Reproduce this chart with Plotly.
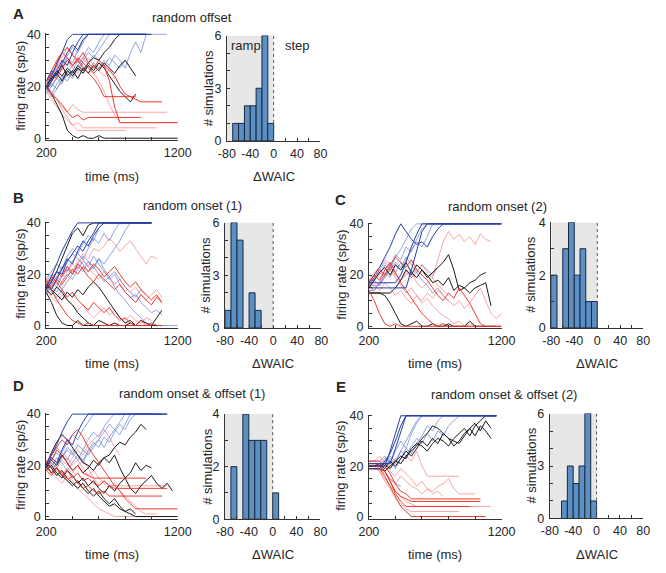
import plotly.graph_objects as go

# ---------------- data ----------------
T = [200, 240, 280, 320, 360, 400, 440, 480, 520, 560, 600, 640, 680, 720, 760,
     800, 840, 880, 920, 960, 1000, 1040, 1080, 1120, 1160, 1200]

# Panel A: random offset
A_BLUE_DARK = [
    [20, 24, 29, 33, 38, 40, 40, 40, 40, 40, 40, 40, 40, 40, 40, 40, 40, 40, 40, 40],
    [19, 22, 26, 30, 28, 33, 37, 40, 40, 40, 40, 40, 40, 40, 40, 40, 40, 40, 40, 40, 40],
    [22, 26, 24, 29, 33, 36, 34, 38, 40, 40, 40, 40, 40, 40, 40, 40, 40, 40, 40, 40],
]
A_BLUE_LIGHT = [
    [21, 20, 24, 27, 31, 29, 34, 38, 40, 40, 40, 40, 40, 40, 40, 40, 40, 40, 40, 40],
    [18, 21, 19, 23, 26, 24, 28, 31, 35, 33, 37, 40, 40, 40, 40, 40, 40, 40, 40, 40, 40],
    [20, 17, 21, 24, 22, 26, 30, 28, 25, 29, 27, 30, 28, 32, 30, 27, 33, 37, 33, 40, 40, 40, 40, 40],
    [17, 20, 23, 21, 25, 28, 26, 30, 33, 31, 34, 37, 40, 40, 40, 40, 40, 40, 40, 40],
    [19, 16, 19, 22, 25, 23, 27, 25, 29, 32, 30, 28, 31, 29, 27, 30],
    [18, 22, 25, 28, 32, 35, 33, 37, 40, 40, 40, 40, 40, 40, 40, 40, 40, 40, 40, 40],
]
A_BLACK = [
    [20, 23, 26, 24, 27, 25, 28, 26, 29, 31, 30, 33, 35, 38, 40, 40, 40, 40, 40, 40],
    [20, 23, 25, 22, 26, 24, 27, 25, 28, 26, 29, 27, 24, 21, 18, 16, 14, 17],
    [20, 17, 13, 9, 3, 1, 0, 1, 0, 0, 1, 0, 0, 0, 0, 0, 0, 0, 0, 0, 0, 0, 0, 0, 0, 0],
    [19, 22, 25, 28, 24, 26, 23, 27, 25, 28, 26, 29, 27, 25, 28, 30, 27, 24],
]
A_RED = [
    [20, 24, 28, 33, 35, 32, 30, 33, 29, 27, 30, 28, 26, 24, 20, 17, 16, 15, 14, 14, 14, 14, 14],
    [21, 25, 23, 27, 30, 28, 31, 29, 27, 25, 27, 28, 22, 12, 6, 6, 6, 6, 6, 6, 6, 6, 6, 6, 6, 6],
    [20, 17, 15, 13, 10, 8, 9, 7, 8, 8, 8, 8, 8, 8, 8, 8, 8, 8, 8],
    [22, 26, 30, 33, 31, 28, 30, 27, 25, 23, 20, 16, 16, 16, 16, 16, 16, 16],
]
A_RED_LIGHT = [
    [19, 17, 15, 12, 10, 13, 11, 10, 10, 10, 10, 10, 10, 10, 10, 10, 10, 10, 10, 10, 10, 10, 10, 10],
    [18, 15, 12, 9, 7, 5, 6, 4, 4, 4, 4, 4, 4, 4, 4, 4, 4, 4, 4, 4, 4, 4],
    [20, 18, 15, 11, 8, 5, 3, 3, 3, 3, 3, 3, 3, 3, 3, 3],
    [20, 23, 27, 31, 35, 32, 29, 31, 28, 25, 22, 18, 13, 9, 6, 6, 6, 6, 6, 6, 6, 6, 6, 6, 6, 6],
    [22, 25, 28, 26, 30, 27, 25, 29, 31, 28, 26, 24, 27, 23],
]

# Panel B: random onset (1)
B_BLUE_DARK = [
    [15, 19, 24, 29, 33, 37, 40, 40, 40, 40, 40, 40, 40, 40, 40, 40, 40, 40, 40, 40, 40],
    [14, 17, 21, 20, 25, 28, 31, 29, 33, 36, 40, 40, 40, 40, 40, 40, 40, 40, 40, 40, 40],
    [16, 14, 18, 22, 26, 24, 29, 33, 31, 35, 38, 40, 40, 40, 40, 40, 40, 40, 40, 40, 40],
]
B_BLUE_LIGHT = [
    [13, 16, 19, 23, 21, 25, 28, 26, 30, 34, 32, 36, 33, 37, 40, 40, 40, 40, 40, 40, 40],
    [17, 20, 18, 22, 25, 28, 26, 24, 21, 23, 20, 17, 19, 15, 12, 10, 7, 5, 3, 1, 0, 0, 0, 0, 0, 0],
    [12, 15, 13, 17, 20, 18, 22, 25, 23, 27, 24, 21, 18, 20, 16, 13, 11, 12, 9, 7, 5, 6, 4],
    [16, 13, 11, 14, 17, 20, 23, 21, 25, 22, 26, 24, 27, 30, 33, 37, 40, 40, 40, 40, 40],
    [18, 21, 24, 22, 27, 30, 28, 32, 35, 33, 38, 40, 40, 40, 40, 40, 40, 40, 40, 40, 40],
    [14, 17, 15, 19, 22, 20, 24, 27, 25, 23, 26, 22, 19, 21, 18, 15, 13, 11, 14, 12],
]
B_BLACK = [
    [14, 17, 21, 26, 31, 36, 38, 35, 39, 40, 40, 40, 40, 40, 40, 40, 40, 40, 40, 40, 40],
    [13, 9, 4, 1, 0, 0, 2, 0, 0, 0, 0, 0, 0, 0, 0, 0, 0, 0, 0, 0, 0, 0, 0],
    [16, 14, 12, 10, 13, 11, 14, 12, 15, 17, 15, 12, 9, 6, 3, 1, 2, 0, 2, 1, 0, 3, 6],
    [14, 12, 15, 13, 10, 8, 5, 3, 1, 0, 2, 1, 0, 1, 0, 0, 1, 0, 0, 0],
]
B_RED = [
    [17, 15, 18, 16, 19, 22, 20, 23, 21, 24, 22, 19, 21, 23, 20, 17, 15, 17, 14, 12, 10, 12, 9],
    [18, 14, 10, 7, 4, 2, 1, 0, 1, 0, 0, 0, 0, 0, 0, 0, 0, 0, 0, 0, 0],
    [16, 19, 17, 14, 11, 13, 10, 8, 6, 9, 7, 5, 7, 4, 2, 3, 1, 0, 2, 0, 1, 0, 0],
    [15, 18, 21, 19, 23, 20, 24, 22, 19, 17, 20, 18, 16, 14, 16, 13, 11, 9, 12, 10, 8, 11, 9],
]
B_RED_LIGHT = [
    [15, 18, 16, 20, 23, 21, 25, 28, 26, 30, 29, 31, 34, 32, 29, 31, 33, 30, 27, 24, 27, 26],
    [14, 11, 9, 12, 10, 8, 6, 8, 5, 3, 5, 7, 4, 6, 3, 2, 4, 2, 1, 3, 2],
    [13, 16, 19, 17, 21, 24, 22, 26, 23, 20, 18, 21, 19, 16, 18, 15, 13, 15, 12, 10, 12, 14, 11],
]

# Panel C: random onset (2)
C_BLUE_DARK = [
    [17, 17, 17, 17, 17, 17, 20, 25, 31, 36, 40, 40, 40, 40, 40, 40, 40, 40, 40, 40, 40, 40, 40, 40, 40, 40],
    [15, 15, 15, 15, 15, 15, 15, 15, 22, 30, 37, 40, 40, 40, 40, 40, 40, 40, 40, 40, 40, 40, 40, 40, 40, 40],
    [17, 20, 23, 27, 31, 36, 40, 37, 34, 32, 33, 31, 35, 38, 40, 40, 40, 40, 40, 40, 40, 40, 40, 40, 40, 40],
]
C_BLUE_LIGHT = [
    [18, 18, 20, 24, 22, 27, 30, 34, 38, 40, 40, 40, 40, 40, 40, 40, 40, 40, 40, 40, 40, 40, 40, 40, 40, 40],
    [16, 19, 22, 25, 23, 28, 26, 31, 29, 34, 38, 40, 40, 40, 40, 40, 40, 40, 40, 40, 40],
    [14, 14, 17, 21, 19, 24, 22, 26, 30, 33, 31, 35, 40, 40, 40, 40, 40, 40, 40, 40],
    [15, 18, 16, 20, 23, 21, 25, 22, 19, 21, 24, 22, 20, 23],
    [16, 16, 16, 19, 22, 25, 23, 27, 24, 21, 18, 16, 13, 15, 12, 10],
]
C_BLACK = [
    [13, 13, 13, 13, 13, 15, 18, 22, 20, 24, 22, 19, 21, 23, 25, 28, 22, 14, 15, 13, 15, 16, 17, 8],
    [13, 13, 13, 12, 9, 5, 1, 0, 1, 2, 0, 0, 1, 0, 0, 1, 0, 0, 0, 2, 0, 0, 0, 0, 0],
    [15, 18, 21, 23, 20, 24, 22, 25, 21, 19, 22, 20, 17, 18, 16, 19, 14, 16, 15, 17, 18, 20, 21],
]
C_RED = [
    [16, 19, 22, 20, 24, 27, 25, 23, 26, 22, 20, 18, 15, 12, 10, 13, 11, 15, 12, 9, 5, 1, 0, 0, 0, 0],
    [14, 10, 5, 1, 0, 1, 0, 0, 0, 0, 0, 0, 0, 0, 0, 0, 0, 0, 0, 0, 0, 0, 0, 0, 0, 0],
    [17, 20, 18, 22, 25, 21, 17, 14, 11, 8, 5, 3, 1, 0, 1, 0, 0, 0, 0, 0],
]
C_RED_LIGHT = [
    [15, 18, 21, 19, 23, 20, 18, 21, 19, 22, 24, 21, 19, 26, 33, 37, 34, 36, 33, 35, 32, 36, 34, 33],
    [13, 16, 14, 17, 15, 12, 14, 11, 9, 12, 10, 13, 11, 14, 12, 10, 8, 10, 7, 9, 12, 15, 10, 5, 3, 5],
    [16, 14, 17, 20, 22, 19, 16, 13, 15, 12, 9, 11, 8, 6, 4, 3, 1, 2, 0, 1, 0],
    [18, 21, 23, 26, 24, 20, 18, 20, 22, 17, 15, 17, 19, 16, 14, 12],
]

# Panel D: random onset & offset (1)
D_BLUE_DARK = [
    [20, 24, 28, 33, 37, 40, 40, 40, 40, 40, 40, 40, 40, 40, 40, 40, 40, 40, 40, 40, 40, 40, 40, 40],
    [19, 23, 21, 26, 30, 28, 33, 37, 40, 40, 40, 40, 40, 40, 40, 40, 40, 40, 40, 40, 40, 40, 40, 40],
]
D_BLUE_LIGHT = [
    [21, 24, 27, 25, 29, 32, 30, 34, 37, 40, 40, 40, 40, 40, 40, 40, 40, 40, 40, 40, 40, 40, 40],
    [18, 21, 19, 23, 26, 24, 28, 26, 30, 33, 31, 35, 38, 40, 40, 40, 40, 40, 40, 40, 40, 40, 40],
    [20, 17, 21, 24, 22, 26, 24, 21, 25, 28, 30, 27, 31, 34, 32, 36, 40, 40, 40, 40, 40, 40, 40],
    [19, 22, 25, 23, 27, 25, 22, 26, 24, 27, 30, 33, 36, 34, 37, 40, 40, 40, 40, 40, 40],
    [21, 19, 23, 21, 18, 21, 24, 22, 26, 29, 27, 31, 29, 33, 36, 34, 38, 40, 40, 40, 40],
]
D_BLACK = [
    [20, 25, 29, 32, 30, 27, 24, 21, 20, 18, 21, 23, 24, 27, 29, 28, 31, 33, 36, 34],
    [19, 22, 20, 24, 21, 18, 20, 17, 19, 22, 20, 23, 21, 24, 19, 15, 17, 21, 18, 20, 19],
    [18, 20, 17, 15, 18, 16, 13, 15, 12, 14, 11, 9, 12, 10, 13, 15, 11, 9, 12, 14, 16, 13, 11, 13, 10],
    [21, 19, 16, 18, 15, 13, 11, 13, 10, 8, 10, 7, 5, 7, 4, 2, 1, 0, 0, 0, 0, 0, 0, 0, 0, 0],
    [20, 17, 19, 16, 14, 12, 14, 11, 9, 11, 8, 6, 4, 5, 3, 2, 3, 1],
]
D_RED = [
    [19, 22, 26, 24, 21, 18, 20, 17, 16, 15, 15, 15, 15, 15, 15, 15, 15, 15, 15, 15],
    [20, 17, 19, 16, 18, 15, 17, 14, 15, 13, 12, 14, 12, 11, 11, 11, 11, 11, 11, 11, 11, 11, 11, 11],
    [18, 16, 19, 17, 14, 16, 13, 11, 12, 10, 9, 10, 8, 8, 8, 8, 8, 8, 8, 8, 8, 8, 8],
    [21, 24, 27, 30, 28, 32, 34, 31, 27, 24, 21, 18, 15, 12, 10, 7, 5, 3, 3, 3, 3, 3, 3, 3, 3, 3],
]
D_RED_LIGHT = [
    [19, 17, 15, 13, 16, 14, 11, 9, 7, 5, 3, 2, 1, 0, 0, 0, 0, 0, 0, 0],
    [22, 20, 18, 16, 19, 17, 20, 22, 19, 15, 12, 14, 12, 12, 12, 12, 12, 12, 12, 12, 12, 12, 12, 12],
    [20, 23, 21, 25, 23, 20, 22, 19, 16, 18, 15, 13, 11, 13, 10, 8, 6, 4, 2, 1, 1, 1],
    [18, 21, 19, 22, 20, 23, 26, 24, 28, 30, 32, 34, 31, 27, 24],
]

# Panel E: random onset & offset (2)
E_BLUE_DARK = [
    [20, 20, 20, 20, 26, 33, 40, 40, 40, 40, 40, 40, 40, 40, 40, 40, 40, 40, 40, 40, 40, 40, 40, 40, 40],
    [21, 21, 21, 21, 21, 27, 34, 40, 40, 40, 40, 40, 40, 40, 40, 40, 40, 40, 40, 40, 40, 40, 40, 40, 40],
    [19, 19, 19, 22, 25, 30, 36, 40, 40, 40, 40, 40, 40, 40, 40, 40, 40, 40, 40, 40, 40, 40, 40, 40, 40],
]
E_BLUE_LIGHT = [
    [20, 20, 20, 20, 23, 21, 26, 30, 34, 38, 40, 40, 40, 40, 40, 40, 40, 40, 40, 40, 40, 40, 40, 40, 40],
    [21, 21, 21, 23, 22, 19, 23, 27, 25, 29, 32, 36, 34, 38, 40, 40, 40, 40, 40, 40, 40, 40, 40, 40, 40],
    [19, 19, 19, 21, 24, 22, 26, 24, 28, 31, 29, 33, 30, 34, 32, 36, 38, 40, 40, 40, 40, 40, 40, 40, 40],
    [20, 20, 20, 18, 15, 13, 12],
    [22, 22, 22, 24, 21, 26, 30, 27, 33, 37, 40, 40, 40, 40, 40, 40, 40, 40, 40, 40, 40, 40, 40, 40, 40],
]
E_BLACK = [
    [20, 20, 21, 19, 22, 20, 23, 26, 24, 27, 30, 28, 31, 29, 33, 31, 28, 30, 33, 35, 32, 36, 34, 31],
    [20, 20, 20, 21, 19, 22, 24, 23, 27, 29, 28, 26, 29, 31, 30, 28, 31, 33, 35, 32, 36, 38, 40, 40, 40],
    [19, 19, 19, 18, 20, 22, 21, 24, 26, 28, 31, 33, 36, 35, 33, 31, 30, 29, 32, 35, 37, 34, 38, 35],
]
E_RED = [
    [20, 20, 20, 18, 14, 10, 8, 7, 6, 6, 6, 6, 6, 6, 6, 6, 6, 6, 6, 6, 6, 6],
    [21, 21, 21, 18, 14, 9, 6, 4, 4, 4, 4, 4, 4, 4, 4, 4, 4, 4, 4, 4],
    [19, 19, 19, 16, 12, 8, 4, 2, 0, 0, 0, 0, 0, 0, 0, 0, 0, 0, 0, 0, 0, 0, 0],
    [22, 22, 22, 20, 17, 13, 10, 9, 7, 7, 7, 7, 7, 7, 7, 7, 7, 7, 7, 7, 7, 7],
]
E_RED_LIGHT = [
    [20, 20, 20, 22, 20, 23, 21, 24, 22, 26, 20, 16, 16, 16, 16, 16, 16, 16],
    [21, 21, 19, 17, 15, 13, 16, 14, 12, 11, 9, 11, 10, 12, 13, 15, 11, 9, 9, 9, 9],
    [19, 19, 18, 15, 12, 10, 8, 6, 5, 4, 4, 4, 4, 4, 4, 4, 4, 4, 4, 4, 4, 4, 4, 4],
    [20, 20, 18, 14, 11, 7, 5, 3, 2, 2, 2, 2, 2, 2, 2, 2, 2, 2],
    [22, 22, 24, 21, 18, 16, 19, 17, 15, 12, 14, 11, 9, 10, 8],
]

# Histograms of delta WAIC (left bin edges, width 10)
HIST_A_EDGES = [-70, -60, -50, -40, -30, -20, -10]
HIST_A_COUNTS = [1, 1, 2, 2, 3, 6, 1]
HIST_B_EDGES = [-80, -70, -60, -50, -40, -30]
HIST_B_COUNTS = [1, 6, 5, 0, 2, 1]
HIST_C_EDGES = [-80, -70, -60, -50, -40, -30, -20, -10]
HIST_C_COUNTS = [2, 0, 3, 4, 2, 3, 1, 1]
HIST_D_EDGES = [-70, -60, -50, -40, -30, -20, -10, 0]
HIST_D_COUNTS = [2, 0, 4, 3, 3, 3, 0, 1]
HIST_E_EDGES = [-60, -50, -40, -30, -20, -10]
HIST_E_COUNTS = [1, 3, 2, 3, 6, 1]
BIN_WIDTH = 10

TITLES = ["random offset", "random onset (1)", "random onset (2)",
          "random onset & offset (1)", "random onset & offset (2)"]
LETTERS = ["A", "B", "C", "D", "E"]

# ---------------- styles / layout ----------------
W, H = 666, 573
FONT = "Liberation Sans, Arial, Helvetica, sans-serif"
TXT = "#262626"
COL_BLUE_DARK = "rgb(38,62,168)"
COL_BLUE_LIGHT = "rgba(75,105,205,0.6)"
COL_RED = "rgba(238,48,38,0.95)"
COL_RED_LIGHT = "rgba(246,95,95,0.55)"
COL_BLACK = "rgb(25,25,25)"
BAR_FILL = "rgb(92,143,196)"
BAR_EDGE = "rgb(25,40,60)"
SHADE = "rgb(231,231,231)"
AXC = "#333333"

panels = [
    dict(series=(A_BLUE_LIGHT, A_RED_LIGHT, A_BLACK, A_RED, A_BLUE_DARK),
         edges=HIST_A_EDGES, counts=HIST_A_COUNTS, hmax=6,
         lx=(37.7, 174), y0=134.5, y40=28.0, hx=(225, 322), hy0=137.3, hyt=29.3,
         title=(189, 11), letter=(9, 7), ylab_x=11, sim_x=205.5, xlab_y=174, ramp=True),
    dict(series=(B_BLUE_LIGHT, B_RED_LIGHT, B_BLACK, B_RED, B_BLUE_DARK),
         edges=HIST_B_EDGES, counts=HIST_B_COUNTS, hmax=6,
         lx=(37.5, 174), y0=326.5, y40=221.3, hx=(223, 323), hy0=329, hyt=221,
         title=(189, 203), letter=(9, 195), ylab_x=11, sim_x=202.5, xlab_y=365, ramp=False),
    dict(series=(C_BLUE_LIGHT, C_RED_LIGHT, C_BLACK, C_RED, C_BLUE_DARK),
         edges=HIST_C_EDGES, counts=HIST_C_COUNTS, hmax=4,
         lx=(372.3, 510), y0=327.3, y40=222.3, hx=(561.5, 657), hy0=329, hyt=220.7,
         title=(506, 205), letter=(343, 197), ylab_x=343, sim_x=540, xlab_y=365, ramp=False),
    dict(series=(D_BLUE_LIGHT, D_RED_LIGHT, D_BLACK, D_RED, D_BLUE_DARK),
         edges=HIST_D_EDGES, counts=HIST_D_COUNTS, hmax=4,
         lx=(37.5, 174), y0=522.3, y40=417.3, hx=(223, 322), hy0=525, hyt=417.3,
         title=(189, 396), letter=(9, 388), ylab_x=11, sim_x=205.5, xlab_y=561, ramp=False),
    dict(series=(E_BLUE_LIGHT, E_RED_LIGHT, E_BLACK, E_RED, E_BLUE_DARK),
         edges=HIST_E_EDGES, counts=HIST_E_COUNTS, hmax=6,
         lx=(372.3, 510), y0=522.3, y40=419.0, hx=(560, 657), hy0=524.3, hyt=416.7,
         title=(512, 397), letter=(343, 389), ylab_x=343, sim_x=540, xlab_y=561, ramp=False),
]
STYLE = [(COL_BLUE_LIGHT, 1.0), (COL_RED_LIGHT, 1.0), (COL_BLACK, 1.0),
         (COL_RED, 1.0), (COL_BLUE_DARK, 1.0)]

fig = go.Figure()
layout = dict(width=W, height=H, margin=dict(l=0, r=0, t=0, b=0),
              paper_bgcolor="white", plot_bgcolor="white", showlegend=False,
              font=dict(family=FONT, size=12.5, color=TXT), barmode="overlay")
shapes, annotations = [], []


def xd(a, b):
    return [a / W, b / W]


def yd(top, bottom):
    return [1 - bottom / H, 1 - top / H]


def ann(text, px, py, size=13, angle=0, bold=False):
    annotations.append(dict(text=f"<b>{text}</b>" if bold else text,
                            x=px / W, y=1 - py / H, xref="paper", yref="paper",
                            xanchor="center", yanchor="middle", showarrow=False,
                            textangle=angle, font=dict(size=size, family=FONT, color=TXT)))


YLO, YHI = -0.8, 40.4
for i, p in enumerate(panels):
    nl, nh = 2 * i + 1, 2 * i + 2
    xl = "x" if nl == 1 else f"x{nl}"
    yl = "y" if nl == 1 else f"y{nl}"
    xh, yh = f"x{nh}", f"y{nh}"
    # line traces
    for group, (col, w) in zip(p["series"], STYLE):
        for vals in group:
            fig.add_trace(go.Scatter(x=T[:len(vals)], y=vals, mode="lines",
                                     line=dict(color=col, width=w),
                                     xaxis=xl, yaxis=yl, hoverinfo="skip"))
    # histogram bars
    cx = [e + BIN_WIDTH / 2 for e, c in zip(p["edges"], p["counts"]) if c > 0]
    cy = [c for c in p["counts"] if c > 0]
    fig.add_trace(go.Bar(x=cx, y=cy, width=BIN_WIDTH, xaxis=xh, yaxis=yh,
                         marker=dict(color=BAR_FILL, line=dict(color=BAR_EDGE, width=1)),
                         hoverinfo="skip"))
    s = (p["y0"] - p["y40"]) / 40.0
    top = p["y40"] - (YHI - 40) * s
    bot = p["y0"] - YLO * s
    common = dict(showgrid=False, zeroline=False, showline=True, linecolor=AXC,
                  linewidth=1, ticks="inside", ticklen=3, tickcolor=AXC,
                  tickfont=dict(size=12.5, family=FONT, color=TXT))
    layout["xaxis" if nl == 1 else f"xaxis{nl}"] = dict(
        domain=xd(*p["lx"]), anchor=yl, range=[200, 1200],
        tickvals=[200, 400, 600, 800, 1000, 1200],
        ticktext=["200", "", "", "", "", "1200"], ticklabelstandoff=1, **common)
    layout["yaxis" if nl == 1 else f"yaxis{nl}"] = dict(
        domain=yd(top, bot), anchor=xl, range=[YLO, YHI],
        tickvals=[0, 5, 10, 15, 20, 25, 30, 35, 40],
        ticktext=["0", "", "", "", "20", "", "", "", "40"], ticklabelstandoff=2, **common)
    hm = p["hmax"]
    layout[f"xaxis{nh}"] = dict(
        domain=xd(*p["hx"]), anchor=yh, range=[-80, 80],
        tickvals=[-80, -60, -40, -20, 0, 20, 40, 60, 80],
        ticktext=["-80", "", "-40", "", "0", "", "40", "", "80"], ticklabelstandoff=1, **common)
    layout[f"yaxis{nh}"] = dict(
        domain=yd(p["hyt"], p["hy0"]), anchor=xh, range=[0, hm],
        tickvals=list(range(hm + 1)),
        ticktext=[str(v) if v in (0, hm // 2, hm) else "" for v in range(hm + 1)],
        ticklabelstandoff=2, **common)
    shapes.append(dict(type="rect", xref=xh, yref=yh, x0=-80, x1=0, y0=0, y1=hm,
                       fillcolor=SHADE, line=dict(width=0), layer="below"))
    shapes.append(dict(type="line", xref=xh, yref=yh, x0=0, x1=0, y0=0, y1=hm,
                       line=dict(color="#555", width=1, dash="dot"), layer="above"))
    # text
    ann(TITLES[i], *p["title"], size=13)
    ann(LETTERS[i], *p["letter"], size=15, bold=True)
    ann("firing rate (sp/s)", p["ylab_x"], (p["y0"] + p["y40"]) / 2, angle=-90)
    ann("# simulations", p["sim_x"], (p["hy0"] + p["hyt"]) / 2, angle=-90)
    ann("time (ms)", (p["lx"][0] + p["lx"][1]) / 2, p["xlab_y"])
    ann("ΔWAIC", (p["hx"][0] + p["hx"][1]) / 2, p["xlab_y"])
    if p["ramp"]:
        annotations.append(dict(text="ramp", x=-47, y=5.45, xref=xh, yref=yh,
                                showarrow=False, font=dict(size=13, family=FONT, color=TXT)))
        annotations.append(dict(text="step", x=40, y=5.45, xref=xh, yref=yh,
                                showarrow=False, font=dict(size=13, family=FONT, color=TXT)))

layout["shapes"] = shapes
layout["annotations"] = annotations
fig.update_layout(**layout)
fig.write_html("out.html")
